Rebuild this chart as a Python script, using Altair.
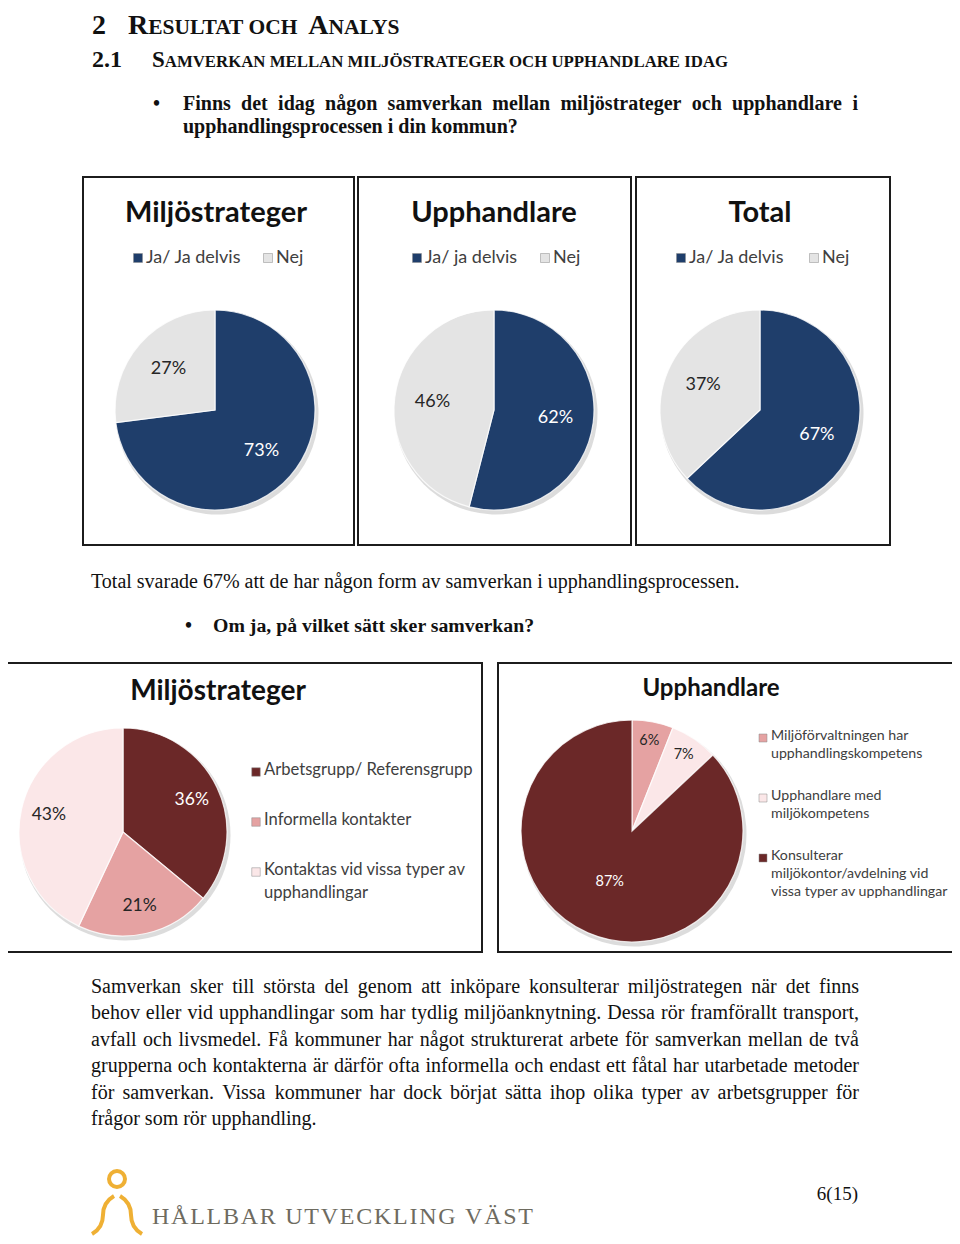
import json
import altair as alt
import pandas as pd

OFF = 8
W, H = 944, 1228
SERIF = "Liberation Serif"
SANS = "Lato"

NAVY, GREY = "#1f3e6b", "#e4e4e4"
MAROON, PINK, LPINK = "#6b2828", "#e5a2a2", "#fbe7e8"
ORANGE = "#efb034"

# ---------------- data ----------------
top_titles = ["Miljöstrateger", "Upphandlare", "Total"]
top_m_cats = ["Ja/ Ja delvis", "Nej"]
top_m_vals = [73, 27]
top_m_labels = ["73%", "27%"]
top_u_cats = ["Ja/ ja delvis", "Nej"]
top_u_vals = [54, 46]          # slice sizes as drawn
top_u_labels = ["62%", "46%"]  # labels as printed
top_t_cats = ["Ja/ Ja delvis", "Nej"]
top_t_vals = [63, 37]
top_t_labels = ["67%", "37%"]

bot_titles = ["Miljöstrateger", "Upphandlare"]
bot_m_cats = ["Arbetsgrupp/ Referensgrupp", "Informella kontakter",
              "Kontaktas vid vissa typer av\nupphandlingar"]
bot_m_vals = [36, 21, 43]
bot_m_labels = ["36%", "21%", "43%"]
bot_u_cats = ["Miljöförvaltningen har\nupphandlingskompetens",
              "Upphandlare med\nmiljökompetens",
              "Konsulterar\nmiljökontor/avdelning vid\nvissa typer av upphandlingar"]
bot_u_vals = [6, 7, 87]
bot_u_labels = ["6%", "7%", "87%"]

heading_num = "2"
heading_parts = [("R", "big"), ("ESULTAT OCH ", "small"), ("A", "big"), ("NALYS", "small")]
sub_num = "2.1"
sub_parts = [("S", "big"), ("AMVERKAN MELLAN MILJÖSTRATEGER OCH UPPHANDLARE IDAG", "small")]
question_lines = ["Finns det idag någon samverkan mellan miljöstrateger och upphandlare i",
                  "upphandlingsprocessen i din kommun?"]
total_line = "Total svarade 67% att de har någon form av samverkan i upphandlingsprocessen."
question2 = "Om ja, på vilket sätt sker samverkan?"
paragraph = [
    "Samverkan sker till största del genom att inköpare konsulterar miljöstrategen när det finns",
    "behov eller vid upphandlingar som har tydlig miljöanknytning. Dessa rör framförallt transport,",
    "avfall och livsmedel. Få kommuner har något strukturerat arbete för samverkan mellan de två",
    "grupperna och kontakterna är därför ofta informella och endast ett fåtal har utarbetade metoder",
    "för samverkan. Vissa kommuner har dock börjat sätta ihop olika typer av arbetsgrupper för",
    "frågor som rör upphandling.",
]
footer_org = "HÅLLBAR UTVECKLING VÄST"
page_no = "6(15)"

# ---------------- font metrics (Times-compatible, per 1000 em) ----------------
_REG = dict(zip("abcdefghijklmnopqrstuvwxyz",
                [444, 500, 444, 500, 444, 333, 500, 500, 278, 278, 500, 278, 778, 500, 500,
                 500, 500, 333, 389, 278, 500, 500, 722, 500, 500, 444]))
_REG.update(zip("ABCDEFGHIJKLMNOPQRSTUVWXYZ",
                [722, 667, 667, 722, 611, 556, 722, 722, 333, 389, 722, 611, 889, 722, 722,
                 556, 722, 667, 556, 611, 722, 722, 944, 722, 722, 611]))
_REG.update({" ": 250, ",": 250, ".": 250, "?": 444, "%": 833, "/": 278, "-": 333,
             "(": 333, ")": 333, "å": 444, "ä": 444, "ö": 500, "Å": 722, "Ä": 722, "Ö": 722})
_REG.update({d: 500 for d in "0123456789"})
_BOLD = dict(zip("abcdefghijklmnopqrstuvwxyz",
                 [500, 556, 444, 556, 444, 333, 500, 556, 278, 333, 556, 278, 833, 556, 500,
                  556, 556, 444, 389, 333, 556, 500, 722, 500, 500, 444]))
_BOLD.update(zip("ABCDEFGHIJKLMNOPQRSTUVWXYZ",
                 [722, 667, 722, 722, 667, 611, 778, 778, 389, 500, 778, 667, 944, 722, 778,
                  611, 778, 722, 556, 667, 722, 722, 1000, 722, 722, 667]))
_BOLD.update({" ": 250, ",": 250, ".": 250, "?": 500, "%": 1000, "/": 278, "-": 333,
              "å": 500, "ä": 500, "ö": 500, "Å": 722, "Ä": 722, "Ö": 778})
_BOLD.update({d: 500 for d in "0123456789"})


def tw(s, size, bold=False):
    table = _BOLD if bold else _REG
    return sum(table.get(ch, 500) for ch in s) * size / 1000.0


# ---------------- helpers ----------------
layers = []


def one():
    return pd.DataFrame({"t": [""]})


def txt(s, x, y, size, font=SERIF, weight="normal", color="#111111", align="left",
        baseline="alphabetic"):
    layers.append(
        alt.Chart(pd.DataFrame({"t": [s]}))
        .mark_text(font=font, fontSize=size, fontWeight=weight, color=color,
                   align=align, baseline=baseline)
        .encode(text="t:N", x=alt.value(x - OFF), y=alt.value(y - OFF))
    )


def justify(line, x0, x1, y, size, bold=False):
    words = line.split(" ")
    widths = [tw(w, size, bold) for w in words]
    gap = (x1 - x0 - sum(widths)) / max(len(words) - 1, 1)
    x = x0
    for w, wd in zip(words, widths):
        txt(w, x, y, size, weight="bold" if bold else "normal")
        x += wd + gap


def spaced(s, x0, x1, y, size, color):
    widths = [tw(ch, size) for ch in s]
    sp = (x1 - x0 - sum(widths)) / max(len(s) - 1, 1)
    x = x0
    for ch, wd in zip(s, widths):
        if ch != " ":
            txt(ch, x, y, size, color=color)
        x += wd + sp


def box(x1, y1, x2, y2):
    layers.append(
        alt.Chart(one())
        .mark_rect(fill="white", stroke="#1c1c1c", strokeWidth=2)
        .encode(x=alt.value(x1 - OFF), x2=alt.value(x2 - OFF),
                y=alt.value(y1 - OFF), y2=alt.value(y2 - OFF))
    )


def is_dark(dark):
    return " || ".join("datum.cat === %s" % json.dumps(c) for c in dark)


def pie(cats, vals, labels, colors, dark, cx, cy, r, lab_size, lab_rules,
        legend, legend_size, legend_lh=None, sq=81):
    df = pd.DataFrame({"cat": cats, "val": vals, "lab": labels, "i": list(range(len(cats)))})
    base = alt.Chart(df)
    color = alt.Color("cat:N", scale=alt.Scale(domain=cats, range=colors), legend=None)
    theta = alt.Theta("val:Q", stack=True)
    order = alt.Order("i:Q", sort="ascending")
    px, py = alt.value(cx - OFF), alt.value(cy - OFF)
    parts = []
    parts.append(base.mark_arc(radius=r + 1.5, color="#b9b9b9", opacity=0.5)
                 .encode(theta=theta, order=order, x=alt.value(cx - OFF + 2),
                         y=alt.value(cy - OFF + 3)))
    parts.append(base.mark_arc(radius=r, stroke="#ffffff", strokeWidth=1.2, strokeOpacity=0.8)
                 .encode(theta=theta, color=color, order=order, x=px, y=py))
    for test, rad in lab_rules:
        parts.append(
            base.mark_text(radius=rad, font=SANS, fontSize=lab_size)
            .encode(theta=theta, order=order, x=px, y=py,
                    text=alt.condition(test, alt.Text("lab:N"), alt.value("")),
                    color=alt.condition(is_dark(dark), alt.value("#ffffff"), alt.value("#262626")))
        )
    kind, a, b, c = legend
    if kind == "h":
        lx = alt.X("cat:N", scale=alt.Scale(type="point", domain=cats,
                                            range=[a - OFF, b - OFF], padding=0), axis=None)
        ly = alt.value(c - OFF)
        parts.append(base.mark_square(size=sq, opacity=1, stroke="#8a8a8a", strokeWidth=0.5)
                     .encode(x=lx, y=ly, color=color))
        parts.append(base.mark_text(align="left", baseline="middle", dx=8, font=SANS,
                                    fontSize=legend_size, color="#404040")
                     .encode(x=lx, y=ly, text="cat:N"))
    else:
        ly = alt.Y("cat:N", scale=alt.Scale(type="point", domain=cats,
                                            range=[a - OFF, b - OFF], padding=0), axis=None)
        lx = alt.value(c - OFF)
        parts.append(base.mark_square(size=sq, opacity=1, stroke="#8a8a8a", strokeWidth=0.5)
                     .encode(x=lx, y=ly, color=color))
        parts.append(base.mark_text(align="left", baseline="top", dx=8, dy=-legend_size * 0.62,
                                    font=SANS, fontSize=legend_size, color="#404040",
                                    lineBreak="\n", lineHeight=legend_lh)
                     .encode(x=lx, y=ly, text="cat:N"))
    layers.append(alt.layer(*parts))


def ring(cx, cy, r_out, r_in, t1, t2, color):
    layers.append(
        alt.Chart(one())
        .mark_arc(radius=r_out, radius2=r_in, theta=t1, theta2=t2, color=color)
        .encode(x=alt.value(cx - OFF), y=alt.value(cy - OFF))
    )


# ---------------- headings ----------------
H1_BASE, BIG, SMALL = 34, 28, 21.5
txt(heading_num, 92, H1_BASE, 28, weight="bold")
x = 128
for s, kind in heading_parts:
    size = BIG if kind == "big" else SMALL
    txt(s, x, H1_BASE, size, weight="bold")
    x += tw(s, size, bold=True)

txt(sub_num, 92, 67, 24, weight="bold")
txt(sub_parts[0][0], 152, 67, 23, weight="bold")
txt(sub_parts[1][0], 152 + tw("S", 23, True), 67, 16.8, weight="bold")

txt("•", 153, 110, 20, weight="bold")
justify(question_lines[0], 183, 858, 110, 20, bold=True)
txt(question_lines[1], 183, 133, 20, weight="bold")

# ---------------- top charts ----------------
box(83, 177, 354, 545)
box(358, 177, 631, 545)
box(636, 177, 890, 545)

txt(top_titles[0], 216, 222, 29, font=SANS, weight="bold", align="center")
txt(top_titles[1], 494, 222, 29, font=SANS, weight="bold", align="center")
txt(top_titles[2], 760, 222, 29, font=SANS, weight="bold", align="center")

pie(top_m_cats, top_m_vals, top_m_labels, [NAVY, GREY], [top_m_cats[0]],
    215, 410, 100, 18, [("true", 62)], ("h", 138, 268, 258), 18)
pie(top_u_cats, top_u_vals, top_u_labels, [NAVY, GREY], [top_u_cats[0]],
    494, 410, 100, 18, [("true", 62)], ("h", 417, 545, 258), 18)
pie(top_t_cats, top_t_vals, top_t_labels, [NAVY, GREY], [top_t_cats[0]],
    760, 410, 100, 18, [("true", 62)], ("h", 681, 814, 258), 18)

# ---------------- middle text ----------------
txt(total_line, 91, 588, 20)
txt("•", 185, 632, 20, weight="bold")
txt(question2, 213, 632, 19.8, weight="bold")

# ---------------- bottom charts ----------------
box(3, 663, 482, 952)
box(498, 663, 958, 952)

txt(bot_titles[0], 218, 700, 28, font=SANS, weight="bold", align="center")
txt(bot_titles[1], 711, 696, 24, font=SANS, weight="bold", align="center")

pie(bot_m_cats, bot_m_vals, bot_m_labels, [MAROON, PINK, LPINK], [bot_m_cats[0]],
    123, 832, 104, 17.5, [("true", 76)], ("v", 772, 872, 256), 16.6, 23, sq=72)
pie(bot_u_cats, bot_u_vals, bot_u_labels, [PINK, LPINK, MAROON], [bot_u_cats[2]],
    632, 831, 111, 14.5, [("datum.val < 20", 92), ("datum.val >= 20", 56)],
    ("v", 738, 858, 763), 14.2, 18, sq=64)

# ---------------- paragraph ----------------
for k, line in enumerate(paragraph):
    y = 993 + k * 26.4
    if k < len(paragraph) - 1:
        justify(line, 91, 859, y, 20)
    else:
        txt(line, 91, y, 20)

# ---------------- footer ----------------
ring(117, 1179, 10, 6, 0, 6.2832, ORANGE)
ring(125, 1215, 24, 20, 4.712, 5.760, ORANGE)   # upper left
ring(81, 1215, 24, 20, 1.571, 2.618, ORANGE)    # lower left
ring(109, 1215, 24, 20, 0.524, 1.571, ORANGE)   # upper right
ring(153, 1215, 24, 20, 3.665, 4.712, ORANGE)   # lower right
spaced(footer_org, 152, 533, 1224, 24, "#6e6b5f")
txt(page_no, 858, 1200, 19, align="right")

chart = (
    alt.layer(*layers)
    .properties(width=W, height=H, padding=0, autosize=alt.AutoSizeParams(type="none"),
                background="white")
    .resolve_scale(x="independent", y="independent", color="independent", theta="independent")
    .configure_view(stroke=None)
)

chart.save("out.html", embed_options={"renderer": "svg", "actions": False})
